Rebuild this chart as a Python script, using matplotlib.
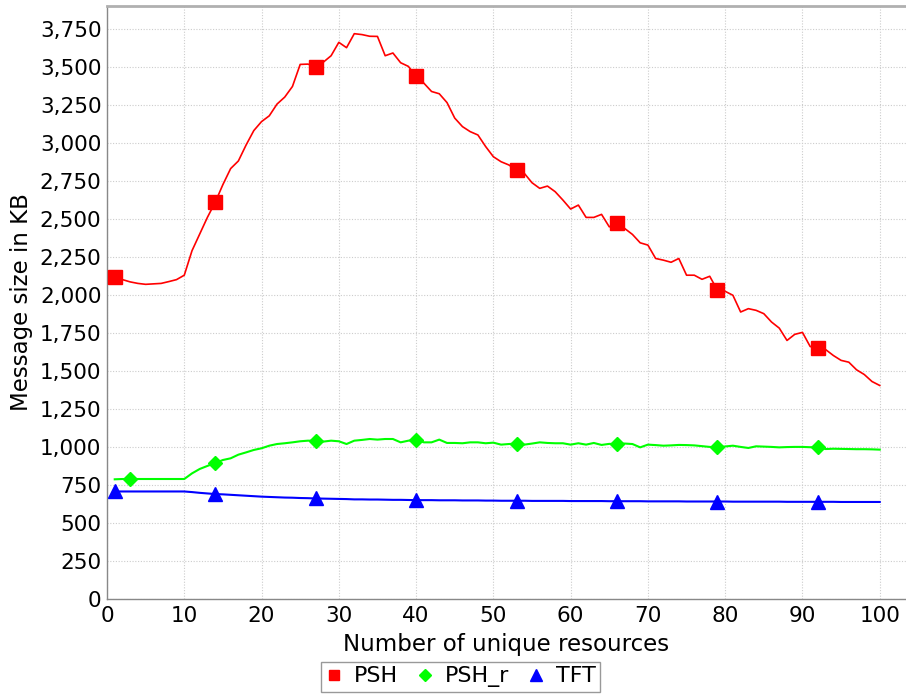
import matplotlib
matplotlib.use("Agg")
import matplotlib.pyplot as plt
from matplotlib.lines import Line2D
from matplotlib.ticker import FuncFormatter, MultipleLocator

x = list(range(1, 101))

psh = [2117, 2100, 2085, 2075, 2069, 2072, 2075, 2087, 2100, 2129,
       2290, 2400, 2510, 2608, 2725, 2830, 2880, 2985, 3080, 3139,
       3177, 3254, 3300, 3370, 3515, 3517, 3500, 3530, 3572, 3660,
       3625, 3717, 3711, 3700, 3699, 3572, 3590, 3526, 3502, 3436,
       3392, 3337, 3322, 3264, 3162, 3106, 3073, 3051, 2975, 2908,
       2875, 2854, 2821, 2799, 2737, 2700, 2715, 2678, 2623, 2564,
       2590, 2509, 2509, 2529, 2447, 2469, 2436, 2397, 2342, 2327,
       2239, 2228, 2214, 2239, 2129, 2129, 2102, 2122, 2030, 2023,
       1997, 1887, 1909, 1898, 1876, 1821, 1781, 1700, 1740, 1753,
       1660, 1650, 1640, 1601, 1569, 1557, 1507, 1476, 1430, 1404]

psh_r = [787, 789, 789, 789, 789, 789, 789, 789, 789, 789,
         826, 855, 875, 894, 914, 925, 949, 964, 980, 991,
         1008, 1019, 1024, 1030, 1037, 1041, 1040, 1035, 1041, 1037,
         1019, 1041, 1046, 1052, 1048, 1052, 1052, 1030, 1041, 1048,
         1030, 1030, 1048, 1026, 1026, 1024, 1030, 1030, 1024, 1028,
         1015, 1019, 1022, 1015, 1022, 1030, 1026, 1024, 1024, 1015,
         1024, 1015, 1026, 1013, 1020, 1019, 1022, 1019, 997, 1015,
         1012, 1008, 1010, 1013, 1012, 1010, 1005, 1000, 997, 1003,
         1008, 1000, 993, 1004, 1002, 1000, 997, 999, 1000, 1000,
         998, 997, 986, 988, 987, 986, 985, 985, 984, 982]

tft = [707, 707, 707, 707, 707, 707, 707, 707, 707, 707,
       703, 698, 694, 690, 688, 685, 682, 679, 676, 673,
       671, 669, 667, 666, 664, 663, 661, 660, 659, 658,
       657, 655, 655, 654, 654, 653, 652, 652, 651, 650,
       650, 650, 649, 649, 649, 648, 648, 648, 647, 647,
       646, 646, 646, 646, 645, 645, 645, 645, 645, 644,
       644, 644, 644, 644, 643, 643, 643, 643, 643, 642,
       642, 642, 642, 642, 641, 641, 641, 641, 641, 641,
       640, 640, 640, 640, 640, 640, 640, 639, 639, 639,
       639, 639, 639, 639, 638, 638, 638, 638, 638, 638]

marks_main = [1, 14, 27, 40, 53, 66, 79, 92]
marks_r = [3, 14, 27, 40, 53, 66, 79, 92]

W, H = 906, 694
fig = plt.figure(figsize=(W / 100, H / 100), dpi=100)
ax = fig.add_axes([107 / W, 1 - 599 / H, (906 - 107) / W, (599 - 5.7) / H])

ax.plot(x, psh, color="#ff0000", lw=1.2, marker="s", ms=9.5,
        markevery=[i - 1 for i in marks_main], zorder=4)
ax.plot(x, psh_r, color="#00ff00", lw=1.5, marker="D", ms=7.2,
        markevery=[i - 1 for i in marks_r], zorder=3)
ax.plot(x, tft, color="#0000ff", lw=1.5, marker="^", ms=10.5,
        markevery=[i - 1 for i in marks_main], zorder=3)

ax.set_xlim(0, 103.4)
ax.set_ylim(0, 3901)
ax.xaxis.set_major_locator(MultipleLocator(10))
ax.yaxis.set_major_locator(MultipleLocator(250))
ax.yaxis.set_major_formatter(FuncFormatter(lambda v, p: f"{int(v):,}"))

ax.grid(True, color="#cccccc", linestyle=(0, (1.0, 1.5)), linewidth=0.8)
ax.set_axisbelow(True)
ax.tick_params(length=0, labelsize=15.5, colors="black")
ax.tick_params(axis="y", pad=4)
ax.tick_params(axis="x", pad=5)

for s in ["left", "bottom"]:
    ax.spines[s].set_color("#888888")
    ax.spines[s].set_linewidth(1.0)
ax.spines["top"].set_color("#b0b0b0")
ax.spines["top"].set_linewidth(2.0)
ax.spines["right"].set_visible(False)

ax.set_xlabel("Number of unique resources", fontsize=16.5, labelpad=5)
ax.set_ylabel("Message size in KB", fontsize=16.5, labelpad=5)

handles = [
    Line2D([], [], color="#ff0000", marker="s", ls="none", ms=7),
    Line2D([], [], color="#00ff00", marker="D", ls="none", ms=6),
    Line2D([], [], color="#0000ff", marker="^", ls="none", ms=8),
]
leg = fig.legend(handles, ["PSH", "PSH_r", "TFT"], loc="upper center",
                 bbox_to_anchor=(460.5 / W, 1 - 662 / H), ncol=3,
                 fontsize=16, frameon=True, fancybox=False,
                 edgecolor="#808080", handlelength=0.8, handletextpad=0.5,
                 columnspacing=0.8, borderpad=0.2, borderaxespad=0)
leg.get_frame().set_linewidth(1.0)

fig.savefig("out.png", dpi=100)
